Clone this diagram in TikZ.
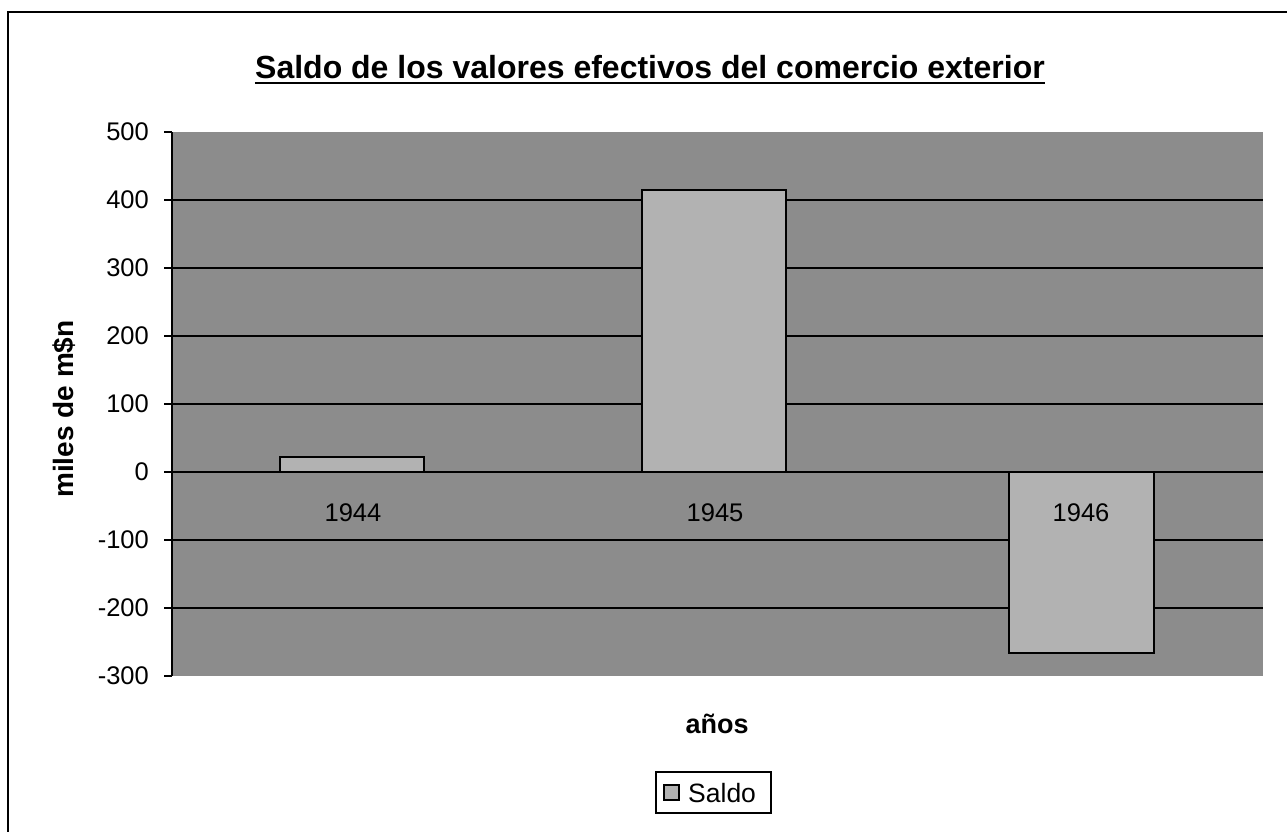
\documentclass[tikz,border=0pt]{standalone}
\usepackage{fontspec}
\setmainfont{Liberation Sans}
\begin{document}
\begin{tikzpicture}[x=1pt,y=-1pt,
  tick/.style={font=\fontsize{25.5}{30}\selectfont, anchor=east, inner sep=0pt},
  cat/.style={font=\fontsize{25.5}{30}\selectfont, inner sep=0pt},
  bar/.style={draw=black, line width=2.6pt, fill=black!30},
  grid/.style={draw=black, line width=1.6pt},
  frame/.style={draw=black, line width=1.8pt}]
\useasboundingbox (0,0) rectangle (1287,831);
\fill[white] (0,0) rectangle (1287,831);
% outer frame (extends beyond right and bottom edge)
\draw[frame] (8,840) -- (8,12) -- (1295,12);
% title
\node[font=\bfseries\fontsize{32}{38}\selectfont, inner sep=0pt, anchor=base] (title) at (650,78) {Saldo de los valores efectivos del comercio exterior};
\draw[line width=2.8pt] ([yshift=-5pt]title.base west) -- ([yshift=-5pt]title.base east);
% plot area
\fill[black!45] (172,132) rectangle (1263,676);
\foreach \v in {400,300,...,-200} {
  \draw[grid] (172,{472-0.68*\v}) -- (1263,{472-0.68*\v});
}
% bars
\draw[bar] (280,472) rectangle (424,457);
\draw[bar] (642,472) rectangle (786,190);
\draw[bar] (1009,472) rectangle (1154,653);
% zero line
\draw[grid] (172,472) -- (1263,472);
% axis and ticks
\draw[line width=1.6pt] (172,132) -- (172,676);
\foreach \v in {500,400,...,-300} {
  \draw[line width=1.6pt] (164,{472-0.68*\v}) -- (172,{472-0.68*\v});
  \node[tick] (t\v) at (149,{472-0.68*\v}) {\v};
}
% category labels
\node[cat] (c1944) at (353,513) {1944};
\node[cat] (c1945) at (715,513) {1945};
\node[cat] (c1946) at (1081,513) {1946};
% axis titles
\node[font=\bfseries\fontsize{28}{33}\selectfont, rotate=90, inner sep=0pt] (ytitle) at (64,409) {miles de m\$n};
\node[font=\bfseries\fontsize{27}{32}\selectfont, inner sep=0pt] (xtitle) at (717,724) {años};
% legend
\node[draw=black, line width=1.6pt, fill=white, minimum width=115pt, minimum height=41pt, inner sep=0pt] (legend) at (713.5,792.5) {};
\draw[black, line width=1.6pt, fill=black!30] (664,785) rectangle (679,800);
\node[font=\fontsize{26.5}{31}\selectfont, anchor=west, inner sep=0pt] (legtext) at (688,793) {Saldo};
\end{tikzpicture}
\end{document}
